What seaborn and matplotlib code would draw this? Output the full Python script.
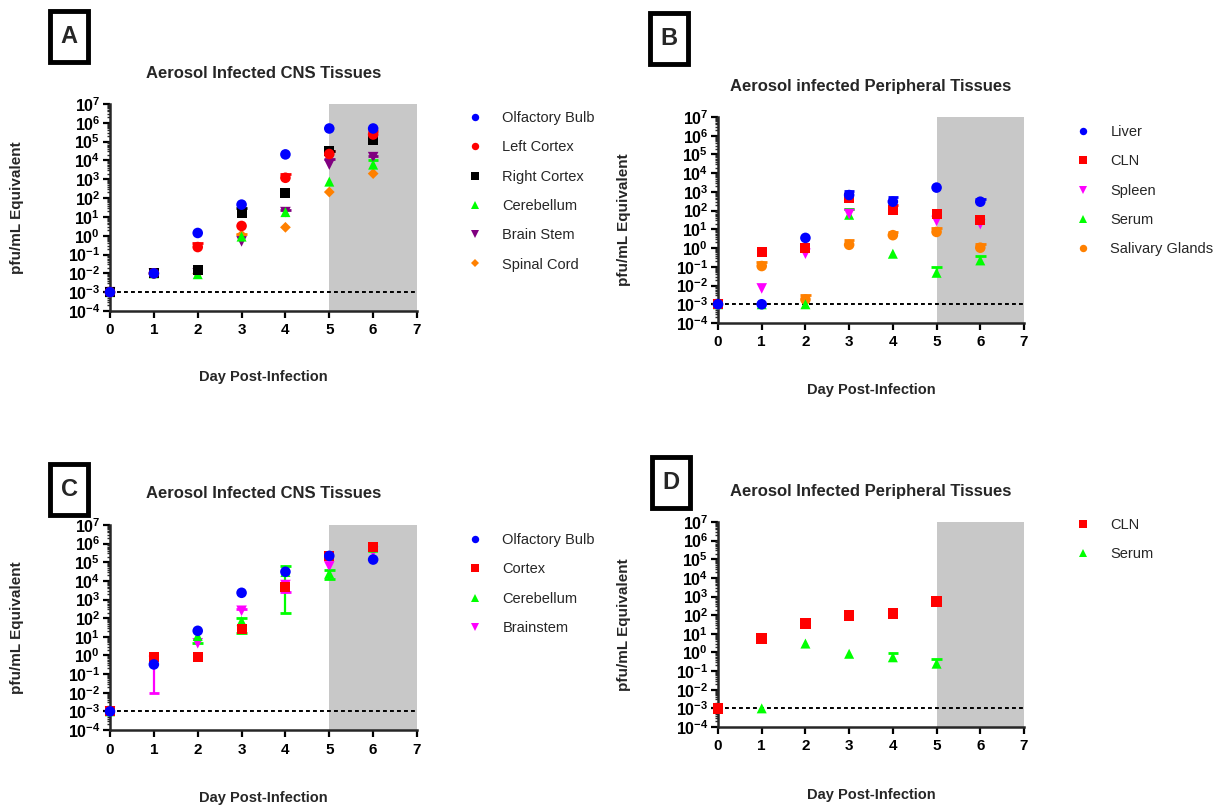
import numpy as np
import pandas as pd
import matplotlib
matplotlib.use("Agg")
import matplotlib.pyplot as plt
from matplotlib.patches import Rectangle
from matplotlib.ticker import LogLocator, FixedLocator, NullFormatter
import seaborn as sns

# ---------------- data ----------------
days = [0, 1, 2, 3, 4, 5, 6]
days_D = [0, 1, 2, 3, 4, 5]

# Panel A - Aerosol Infected CNS Tissues
A_tissues = ["Olfactory Bulb", "Left Cortex", "Right Cortex", "Cerebellum", "Brain Stem", "Spinal Cord"]
A_olfactory = [1e-3, 1e-2, 1.4, 45, 2.1e4, 5e5, 5e5]
A_left_cortex = [1e-3, 1e-2, 0.25, 3.3, 1.2e3, 2.2e4, 2.4e5]
A_right_cortex = [1e-3, 1e-2, 0.016, 17, 190, 3e4, 1.2e5]
A_cerebellum = [1e-3, 1e-2, 0.009, 0.9, 18, 750, 6e3]
A_brain_stem = [1e-3, 1e-2, 0.01, 0.5, 18, 6e3, 1.5e4]
A_spinal_cord = [1e-3, 1e-2, 0.01, 1.1, 2.8, 210, 2e3]
# upper error bounds (nan = none)
A_left_cortex_hi = [np.nan, np.nan, 0.4, np.nan, 1.8e3, 3e4, 3.8e5]
A_right_cortex_hi = [np.nan, np.nan, np.nan, 30, np.nan, 3.3e4, np.nan]
A_cerebellum_hi = [np.nan, np.nan, np.nan, np.nan, np.nan, np.nan, 1.1e4]
A_brain_stem_hi = [np.nan, np.nan, np.nan, np.nan, 24, 1.2e4, 1.7e4]
A_spinal_cord_hi = [np.nan, np.nan, np.nan, 1.3, np.nan, np.nan, np.nan]

# Panel B - Aerosol infected Peripheral Tissues
B_tissues = ["Liver", "CLN", "Spleen", "Serum", "Salivary Glands"]
B_liver = [1e-3, 1e-3, 3.5, 680, 300, 1.7e3, 300]
B_cln = [1e-3, 0.6, 1.05, 500, 110, 65, 31]
B_spleen = [1e-3, 0.007, 0.5, 65, 180, 28, 19]
B_serum = [1e-3, 1e-3, 1e-3, 60, 0.5, 0.048, 0.22]
B_salivary = [1e-3, 0.11, 0.0018, 1.5, 4.9, 7.3, 1.05]
B_liver_hi = [np.nan, np.nan, np.nan, 1.1e3, 520, np.nan, 420]
B_cln_hi = [np.nan, np.nan, np.nan, np.nan, 190, np.nan, np.nan]
B_spleen_hi = [np.nan, np.nan, np.nan, 120, np.nan, np.nan, np.nan]
B_serum_hi = [np.nan, np.nan, np.nan, 120, np.nan, 0.1, 0.4]
B_salivary_hi = [np.nan, 0.19, 0.003, 2.6, 7.5, 12, 1.7]

# Panel C - Aerosol Infected CNS Tissues
C_tissues = ["Olfactory Bulb", "Cortex", "Cerebellum", "Brainstem"]
C_olfactory = [1e-3, 0.33, 21, 2.3e3, 3.1e4, 2.2e5, 1.4e5]
C_cortex = [1e-3, 0.85, 0.85, 26, 4.5e3, 2.2e5, 6.5e5]
C_cerebellum = [1e-3, 0.8, 11, 70, 3e4, 2.5e4, 6e5]
C_brainstem = [1e-3, 0.5, 4.5, 250, 6e3, 6e4, 3.7e5]
C_cerebellum_lo = [np.nan, np.nan, 4.5, 17, 180, 1.2e4, np.nan]
C_cerebellum_hi = [np.nan, np.nan, np.nan, 100, 6e4, 3.8e4, np.nan]
C_brainstem_lo = [np.nan, 0.01, np.nan, np.nan, 2.5e3, np.nan, np.nan]
C_brainstem_hi = [np.nan, np.nan, np.nan, 330, np.nan, np.nan, np.nan]

# Panel D - Aerosol Infected Peripheral Tissues
D_tissues = ["CLN", "Serum"]
D_cln = [1e-3, 5.8, 36, 95, 120, 550]
D_serum = [1e-3, 1e-3, 3.0, 0.85, 0.55, 0.25]
D_serum_hi = [np.nan, np.nan, np.nan, np.nan, 0.9, 0.45]

# ---------------- style ----------------
sns.set_theme(style="ticks")
plt.rcParams["font.family"] = ["Liberation Sans", "DejaVu Sans"]
plt.rcParams["mathtext.fontset"] = "custom"
plt.rcParams["mathtext.rm"] = "Liberation Sans:bold"
plt.rcParams["mathtext.it"] = "Liberation Sans:bold"
plt.rcParams["mathtext.bf"] = "Liberation Sans:bold"

BLUE, RED, BLACK, GREEN = "#0000FF", "#FF0000", "#000000", "#00FF00"
PURPLE, ORANGE, MAGENTA = "#800080", "#FF8000", "#FF00FF"

fig = plt.figure(figsize=(12.29, 8.07), dpi=100)
CAP = 0.12  # half cap width in days


def draw_err(ax, xs, vals, bounds, color):
    xs = np.asarray(xs, dtype=float)
    vals = np.asarray(vals, dtype=float)
    b = np.asarray(bounds, dtype=float)
    m = ~np.isnan(b)
    if not m.any():
        return
    ax.vlines(xs[m], vals[m], b[m], colors=color, lw=1.6, zorder=2)
    ax.hlines(b[m], xs[m] - CAP, xs[m] + CAP, colors=color, lw=2.0, zorder=2)


def make_panel(rect, xs, tissues, values, colors, markers, sizes, errs, title,
               title_y, xlabel_y, ylabel_x, legend_xy, legend_spacing):
    ax = fig.add_axes(rect)
    rows = []
    # draw later series first so the first-listed series sit on top
    for t, vals in reversed(list(zip(tissues, values))):
        for d, v in zip(xs, vals):
            rows.append({"day": d, "value": v, "tissue": t})
    df = pd.DataFrame(rows)
    ax.axvspan(5, 7, color="#C8C8C8", lw=0, zorder=0)
    ax.axhline(1e-3, color="black", ls=(0, (2, 1.6)), lw=1.4, zorder=1)
    for t, (lo, hi) in errs.items():
        vals = values[tissues.index(t)]
        if lo is not None:
            draw_err(ax, xs, vals, lo, colors[t])
        if hi is not None:
            draw_err(ax, xs, vals, hi, colors[t])
    sns.scatterplot(data=df, x="day", y="value", hue="tissue", style="tissue",
                    hue_order=tissues, style_order=tissues, palette=colors,
                    markers=markers, size="tissue", sizes=sizes, size_order=tissues,
                    edgecolor="none", linewidth=0, ax=ax, clip_on=False, zorder=3)
    ax.set_yscale("log")
    ax.set_ylim(1e-4, 1e7)
    ax.set_xlim(0, 7)
    ax.set_xticks(range(8))
    ax.set_xticklabels([str(i) for i in range(8)], fontsize=11, fontweight="bold")
    exps = list(range(-4, 8))
    ax.yaxis.set_major_locator(FixedLocator([10.0 ** e for e in exps]))
    ax.set_yticklabels([r"$10^{%d}$" % e for e in exps], fontsize=11.5)
    ax.yaxis.set_minor_locator(LogLocator(base=10, subs=np.arange(2, 10), numticks=30))
    ax.yaxis.set_minor_formatter(NullFormatter())
    for s in ["top", "right"]:
        ax.spines[s].set_visible(False)
    for s in ["left", "bottom"]:
        ax.spines[s].set_linewidth(1.8)
    ax.tick_params(axis="both", which="major", direction="out", width=1.6, length=5,
                   pad=2, color="black", labelcolor="black")
    ax.tick_params(axis="y", which="minor", direction="out", width=1.0, length=2.5)
    ax.tick_params(axis="x", which="major", pad=4)
    ax.set_xlabel("")
    ax.set_ylabel("")
    # titles / labels
    cx = rect[0] + rect[2] / 2
    fig.text(cx, title_y, title, ha="center", va="center", fontsize=12, fontweight="bold")
    fig.text(cx, xlabel_y, "Day Post-Infection", ha="center", va="center",
             fontsize=10.5, fontweight="bold")
    fig.text(ylabel_x, rect[1] + rect[3] / 2, "pfu/mL Equivalent", ha="center", va="center",
             rotation=90, fontsize=11, fontweight="bold")
    # legend
    handles, labels = ax.get_legend_handles_labels()
    hl = [(h, l) for h, l in zip(handles, labels) if l in tissues]
    ax.legend([h for h, _ in hl], [l for _, l in hl], loc="upper left",
              bbox_to_anchor=legend_xy, bbox_transform=fig.transFigure, frameon=False,
              fontsize=10.5, labelspacing=legend_spacing, handletextpad=0.9,
              markerscale=0.7, borderaxespad=0, borderpad=0)
    return ax


def panel_letter(x0, y0, w, h, letter):
    W, H = 1229.0, 807.0
    fig.patches.append(Rectangle((x0 / W, 1 - (y0 + h) / H), w / W, h / H,
                                 transform=fig.transFigure, fill=True, facecolor="white",
                                 edgecolor="black", lw=3.5, zorder=5))
    fig.text((x0 + w / 2) / W, 1 - (y0 + h / 2) / H, letter, ha="center", va="center",
             fontsize=17, fontweight="bold", zorder=6)


W, H = 1229.0, 807.0

def rect_px(left, right, top, bottom):
    return [left / W, 1 - bottom / H, (right - left) / W, (bottom - top) / H]


# Panel A
colA = dict(zip(A_tissues, [BLUE, RED, BLACK, GREEN, PURPLE, ORANGE]))
mkA = dict(zip(A_tissues, ["o", "o", "s", "^", "v", "D"]))
szA = dict(zip(A_tissues, [58, 58, 52, 52, 58, 30]))
make_panel(rect_px(110, 417, 104, 311), days, A_tissues,
           [A_olfactory, A_left_cortex, A_right_cortex, A_cerebellum, A_brain_stem, A_spinal_cord],
           colA, mkA, szA,
           {"Left Cortex": (None, A_left_cortex_hi), "Right Cortex": (None, A_right_cortex_hi),
            "Cerebellum": (None, A_cerebellum_hi), "Brain Stem": (None, A_brain_stem_hi),
            "Spinal Cord": (None, A_spinal_cord_hi)},
           "Aerosol Infected CNS Tissues", 1 - 73 / H, 1 - 377 / H, 17 / W,
           (460 / W, 1 - 111 / H), 1.05)

# Panel B
colB = dict(zip(B_tissues, [BLUE, RED, MAGENTA, GREEN, ORANGE]))
mkB = dict(zip(B_tissues, ["o", "s", "v", "^", "o"]))
szB = dict(zip(B_tissues, [58, 52, 58, 52, 58]))
make_panel(rect_px(718, 1024, 117, 323), days, B_tissues,
           [B_liver, B_cln, B_spleen, B_serum, B_salivary],
           colB, mkB, szB,
           {"Liver": (None, B_liver_hi), "CLN": (None, B_cln_hi), "Spleen": (None, B_spleen_hi),
            "Serum": (None, B_serum_hi), "Salivary Glands": (None, B_salivary_hi)},
           "Aerosol infected Peripheral Tissues", 1 - 87 / H, 1 - 390 / H, 624 / W,
           (1068 / W, 1 - 125 / H), 1.05)

# Panel C
colC = dict(zip(C_tissues, [BLUE, RED, GREEN, MAGENTA]))
mkC = dict(zip(C_tissues, ["o", "s", "^", "v"]))
szC = dict(zip(C_tissues, [58, 52, 52, 58]))
make_panel(rect_px(110, 417, 525, 730), days, C_tissues,
           [C_olfactory, C_cortex, C_cerebellum, C_brainstem],
           colC, mkC, szC,
           {"Cerebellum": (C_cerebellum_lo, C_cerebellum_hi),
            "Brainstem": (C_brainstem_lo, C_brainstem_hi)},
           "Aerosol Infected CNS Tissues", 1 - 493 / H, 1 - 798 / H, 17 / W,
           (460 / W, 1 - 533 / H), 1.05)

# Panel D
colD = dict(zip(D_tissues, [RED, GREEN]))
mkD = dict(zip(D_tissues, ["s", "^"]))
szD = dict(zip(D_tissues, [58, 52]))
make_panel(rect_px(718, 1024, 522, 727), days_D, D_tissues,
           [D_cln, D_serum], colD, mkD, szD,
           {"Serum": (None, D_serum_hi)},
           "Aerosol Infected Peripheral Tissues", 1 - 492 / H, 1 - 795 / H, 624 / W,
           (1068 / W, 1 - 518 / H), 1.05)

panel_letter(50, 11, 38, 51, "A")
panel_letter(650, 13, 38, 51, "B")
panel_letter(50, 464, 38, 51, "C")
panel_letter(652, 457, 38, 51, "D")

fig.savefig("out.png", dpi=100, facecolor="white")
